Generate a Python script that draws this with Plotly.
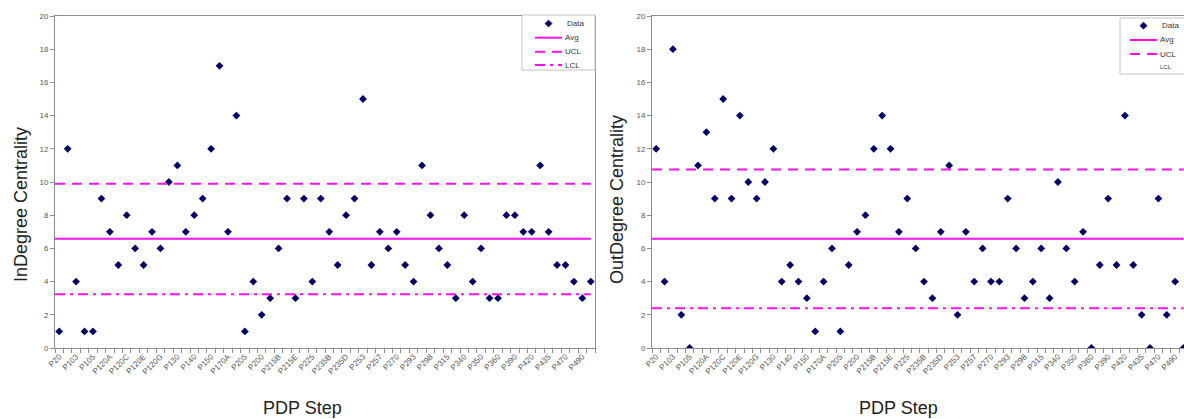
import plotly.graph_objects as go

# PDP step labels shown on the category axis (every other category is labelled)
step_labels = ["P20", "P103", "P105", "P120A", "P120C", "P120E", "P120G", "P130",
               "P140", "P150", "P170A", "P205", "P200", "P215B", "P215E", "P225",
               "P235B", "P235D", "P253", "P257", "P270", "P293", "P298", "P315",
               "P340", "P350", "P360", "P390", "P420", "P435", "P470", "P490"]

in_degree = [1, 12, 4, 1, 1, 9, 7, 5, 8, 6,
             5, 7, 6, 10, 11, 7, 8, 9, 12, 17,
             7, 14, 1, 4, 2, 3, 6, 9, 3, 9,
             4, 9, 7, 5, 8, 9, 15, 5, 7, 6,
             7, 5, 4, 11, 8, 6, 5, 3, 8, 4,
             6, 3, 3, 8, 8, 7, 7, 11, 7, 5,
             5, 4, 3, 4]

out_degree = [12, 4, 18, 2, 0, 11, 13, 9, 15, 9,
              14, 10, 9, 10, 12, 4, 5, 4, 3, 1,
              4, 6, 1, 5, 7, 8, 12, 14, 12, 7,
              9, 6, 4, 3, 7, 11, 2, 7, 4, 6,
              4, 4, 9, 6, 3, 4, 6, 3, 10, 6,
              4, 7, 0, 5, 9, 5, 14, 5, 2, 0,
              9, 2, 4, 0]

# control chart limits
in_avg, in_ucl, in_lcl = 6.58, 9.9, 3.24
out_avg, out_ucl, out_lcl = 6.58, 10.76, 2.4

series_names = ["Data", "Avg", "UCL", "LCL"]

n = len(in_degree)
cats = list(range(n))
tick_pos = cats[::2][:len(step_labels)]

W, H = 1184, 419
DATA_COLOR = "#000066"
LINE_COLOR = "#FF10F0"
FONT = "Liberation Sans, Arial, sans-serif"
DASH_UCL = "10px,7px"
DASH_LCL = "10px,5px,3px,5px"

fig = go.Figure()


def add_panel(vals, avg, ucl, lcl, xa, ya):
    fig.add_trace(go.Scatter(x=cats, y=vals, mode="markers", name=series_names[0],
                             marker=dict(symbol="diamond", size=6, color=DATA_COLOR),
                             xaxis=xa, yaxis=ya, cliponaxis=True, showlegend=False))
    xl = [cats[0] - 0.5, cats[-1]]
    for name, val, dash in [(series_names[1], avg, "solid"),
                            (series_names[2], ucl, DASH_UCL),
                            (series_names[3], lcl, DASH_LCL)]:
        fig.add_trace(go.Scatter(x=xl, y=[val, val], mode="lines", name=name,
                                 line=dict(color=LINE_COLOR, width=2, dash=dash),
                                 xaxis=xa, yaxis=ya, showlegend=False))


add_panel(in_degree, in_avg, in_ucl, in_lcl, "x", "y")
add_panel(out_degree, out_avg, out_ucl, out_lcl, "x2", "y2")


def px(x):
    return x / W


def py(y):
    return (H - y) / H


shapes = []
annotations = []


def legend_box(x0, y0, x1, y1, rows, sample_x0, sample_x1, text_x, show_last_sample=True):
    shapes.append(dict(type="rect", xref="paper", yref="paper", layer="above",
                       x0=px(x0), x1=px(x1), y0=py(y1), y1=py(y0),
                       fillcolor="white", line=dict(color="#c4c4c4", width=1)))
    dashes = [None, "solid", DASH_UCL, DASH_LCL]
    for k, (name, ry) in enumerate(zip(series_names, rows)):
        if k == 0:
            cx = (sample_x0 + sample_x1) / 2
            r = 3.6
            path = (f"M {px(cx - r)},{py(ry)} L {px(cx)},{py(ry - r)} "
                    f"L {px(cx + r)},{py(ry)} L {px(cx)},{py(ry + r)} Z")
            shapes.append(dict(type="path", xref="paper", yref="paper", layer="above",
                               path=path, fillcolor=DATA_COLOR,
                               line=dict(color=DATA_COLOR, width=0.5)))
            tx = text_x + 2
        else:
            if k < 3 or show_last_sample:
                shapes.append(dict(type="line", xref="paper", yref="paper", layer="above",
                                   x0=px(sample_x0), x1=px(sample_x1), y0=py(ry), y1=py(ry),
                                   line=dict(color=LINE_COLOR, width=2, dash=dashes[k])))
            tx = text_x
        fsize = 8 if (k < 3 or show_last_sample) else 6
        annotations.append(dict(text=name, x=px(tx), y=py(ry), xref="paper", yref="paper",
                                xanchor="left", yanchor="middle", showarrow=False,
                                font=dict(family=FONT, size=fsize, color="#333333")))


legend_box(522, 15, 595, 70, [23.5, 37.7, 51.7, 65.0], 535, 562, 563)
legend_box(1120, 18, 1190, 74, [25.7, 40.0, 54.0, 66.5], 1130, 1157, 1158,
           show_last_sample=False)

ydom = [(H - 348) / H, (H - 16) / H]


def xaxis_cfg(domain, rng, anchor):
    return dict(domain=domain, range=rng, anchor=anchor, automargin=False,
                tickmode="array", tickvals=tick_pos,
                ticktext=step_labels, tickangle=-45, ticks="", showgrid=False,
                zeroline=False, showline=True, linecolor="#8c8c8c", linewidth=1,
                mirror=True,
                tickfont=dict(family=FONT, size=8, color="#555555"),
                minor=dict(tick0=-0.5, dtick=1, ticks="outside", ticklen=4,
                           tickcolor="#8c8c8c", showgrid=False))


def yaxis_cfg(anchor):
    return dict(domain=ydom, range=[0, 20], dtick=2, ticks="outside", ticklen=4,
                tickcolor="#8c8c8c", showgrid=False, zeroline=False, showline=True,
                linecolor="#8c8c8c", linewidth=1, mirror=True, anchor=anchor,
                automargin=False,
                tickfont=dict(family=FONT, size=8, color="#555555"))


left_dom = [55 / W, 595 / W]
right_dom = [652 / W, 1.0]
right_px = 8.37
right_rng = [-0.5, -0.5 + (W - 652) / right_px]

title_font = dict(family=FONT, size=18, color="#222222")
annotations += [
    dict(text="InDegree Centrality", x=px(21), y=py(205), xref="paper",
         yref="paper", textangle=-90, showarrow=False, xanchor="center",
         yanchor="middle", font=title_font),
    dict(text="OutDegree Centrality", x=px(617), y=py(200), xref="paper",
         yref="paper", textangle=-90, showarrow=False, xanchor="center",
         yanchor="middle", font=title_font),
    dict(text="PDP Step", x=px(302), y=py(408), xref="paper",
         yref="paper", showarrow=False, xanchor="center", yanchor="middle",
         font=title_font),
    dict(text="PDP Step", x=px(898), y=py(408), xref="paper",
         yref="paper", showarrow=False, xanchor="center", yanchor="middle",
         font=title_font),
]

fig.update_layout(
    width=W, height=H,
    margin=dict(l=0, r=0, t=0, b=0),
    paper_bgcolor="white", plot_bgcolor="white",
    showlegend=False,
    xaxis=xaxis_cfg(left_dom, [-0.5, n - 0.5], "y"),
    yaxis=yaxis_cfg("x"),
    xaxis2=xaxis_cfg(right_dom, right_rng, "y2"),
    yaxis2=yaxis_cfg("x2"),
    shapes=shapes,
    annotations=annotations,
)

fig.write_html("out.html",
               config={"displayModeBar": False},
               post_script="document.body.style.margin='0px';"
                           "document.body.style.overflow='hidden';")
